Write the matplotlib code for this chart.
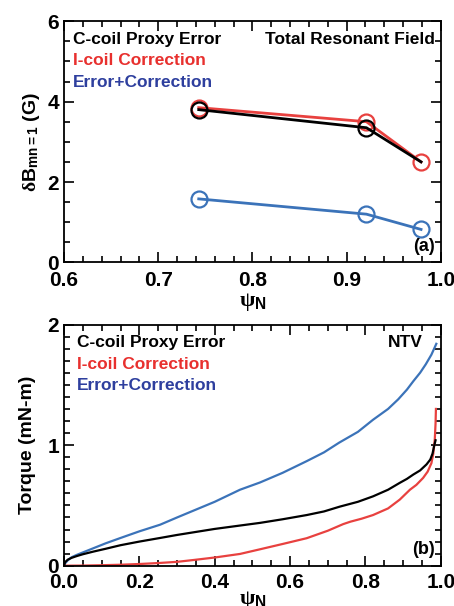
import matplotlib
matplotlib.use("Agg")
import matplotlib.pyplot as plt
from matplotlib.ticker import MultipleLocator

FAM = ['Liberation Sans', 'DejaVu Sans']
plt.rcParams['font.family'] = FAM
plt.rcParams['font.weight'] = 'bold'
plt.rcParams['axes.labelweight'] = 'bold'
plt.rcParams['mathtext.fontset'] = 'custom'
plt.rcParams['mathtext.rm'] = 'Liberation Sans:bold'
plt.rcParams['mathtext.it'] = 'Liberation Serif'
plt.rcParams['mathtext.bf'] = 'Liberation Sans:bold'

# ---- panel (a) data ----
psi_a = [0.743, 0.921, 0.979]
ccoil_a = [3.80, 3.35, 2.50]
icoil_a = [3.85, 3.50, 2.50]
total_a = [1.58, 1.20, 0.82]

# ---- panel (b) data ----
psi_blue = [0, 0.003, 0.01, 0.02, 0.034, 0.05, 0.078, 0.11, 0.15, 0.2, 0.255,
            0.3, 0.35, 0.4, 0.467, 0.52, 0.58, 0.644, 0.69, 0.73, 0.78, 0.82,
            0.86, 0.887, 0.91, 0.927, 0.945, 0.96, 0.975, 0.988]
tq_blue = [0, 0.02, 0.045, 0.07, 0.09, 0.11, 0.145, 0.185, 0.23, 0.285, 0.34,
           0.40, 0.465, 0.53, 0.63, 0.69, 0.77, 0.867, 0.94, 1.02, 1.11, 1.21,
           1.30, 1.38, 1.46, 1.53, 1.60, 1.67, 1.75, 1.84]
psi_black = [0, 0.003, 0.01, 0.02, 0.034, 0.05, 0.078, 0.11, 0.15, 0.2, 0.255,
             0.3, 0.35, 0.4, 0.467, 0.52, 0.58, 0.644, 0.69, 0.732, 0.78, 0.82,
             0.86, 0.891, 0.91, 0.927, 0.945, 0.962, 0.972, 0.978, 0.982, 0.986]
tq_black = [0, 0.03, 0.05, 0.065, 0.08, 0.095, 0.117, 0.14, 0.17, 0.20, 0.23,
            0.255, 0.28, 0.305, 0.333, 0.355, 0.385, 0.42, 0.45, 0.49, 0.53,
            0.575, 0.63, 0.687, 0.72, 0.756, 0.79, 0.84, 0.88, 0.93, 0.99, 1.04]
psi_red = [0, 0.05, 0.1, 0.15, 0.2, 0.25, 0.3, 0.343, 0.4, 0.467, 0.52, 0.58,
           0.644, 0.70, 0.741, 0.76, 0.79, 0.82, 0.86, 0.891, 0.918, 0.935,
           0.953, 0.965, 0.975, 0.98, 0.984, 0.986, 0.987]
tq_red = [0, 0.001, 0.004, 0.008, 0.014, 0.022, 0.032, 0.047, 0.068, 0.0975,
          0.136, 0.18, 0.228, 0.29, 0.345, 0.365, 0.39, 0.42, 0.475, 0.548,
          0.63, 0.67, 0.728, 0.78, 0.85, 0.93, 1.05, 1.18, 1.30]

labels = ['C-coil Proxy Error', 'I-coil Correction', 'Error+Correction']
text_colors = ['black', '#e8302e', '#2e3f9e']
line_black = 'black'
line_red = '#e8413f'
line_blue = '#3b73b9'

fig = plt.figure(figsize=(4.54, 6.06), dpi=100)
ax1 = fig.add_axes([0.141, 0.567, 0.830, 0.398])
ax2 = fig.add_axes([0.141, 0.0665, 0.830, 0.398])

def style(ax):
    ax.tick_params(which='both', direction='in', top=True, right=True,
                   labelsize=15, width=1.2)
    ax.tick_params(which='major', length=7)
    ax.tick_params(which='minor', length=4)
    ax.tick_params(axis='x', which='major', pad=6)
    for s in ax.spines.values():
        s.set_linewidth(1.3)
    for lab in ax.get_xticklabels() + ax.get_yticklabels():
        lab.set_fontweight('bold')

ms = 11.5
ax1.plot(psi_a, icoil_a, color=line_red, lw=2, marker='o', ms=ms,
         mfc='none', mec=line_red, mew=1.6)
ax1.plot(psi_a, ccoil_a, color=line_black, lw=2, marker='o', ms=ms,
         mfc='none', mec=line_black, mew=1.6, markevery=[0, 1])
ax1.plot(psi_a, total_a, color=line_blue, lw=2, marker='o', ms=ms,
         mfc='none', mec=line_blue, mew=1.6)
ax1.set_xlim(0.6, 1.0)
ax1.set_ylim(0, 6)
ax1.xaxis.set_minor_locator(MultipleLocator(0.02))
ax1.yaxis.set_major_locator(MultipleLocator(2))
ax1.yaxis.set_minor_locator(MultipleLocator(0.5))
ax1.set_xticks([0.6, 0.7, 0.8, 0.9, 1.0])
ax1.set_xticklabels(['0.6', '0.7', '0.8', '0.9', '1.0'])
style(ax1)
ax1.set_xlabel(r'$\psi_{\mathrm{N}}$', fontsize=16, labelpad=1)
ax1.set_ylabel(r'$\delta$B$_{\mathrm{mn=1}}$ (G)', fontsize=14, labelpad=4,
               fontweight='bold')
fs = 12.5
for i, (t, c) in enumerate(zip(labels, text_colors)):
    ax1.text(0.024, 0.955 - i * 0.088, t, transform=ax1.transAxes, color=c,
             fontsize=fs, fontweight='bold', va='top', ha='left')
ax1.text(0.985, 0.955, 'Total Resonant Field', transform=ax1.transAxes,
         fontsize=fs, fontweight='bold', va='top', ha='right')
ax1.text(0.985, 0.03, '(a)', transform=ax1.transAxes, fontsize=13,
         fontweight='bold', va='bottom', ha='right')

ax2.plot(psi_blue, tq_blue, color=line_blue, lw=1.6)
ax2.plot(psi_red, tq_red, color=line_red, lw=1.6)
ax2.plot(psi_black, tq_black, color=line_black, lw=1.6)
ax2.set_xlim(0, 1.0)
ax2.set_ylim(0, 2)
ax2.xaxis.set_minor_locator(MultipleLocator(0.05))
ax2.yaxis.set_minor_locator(MultipleLocator(0.1))
ax2.set_xticks([0, 0.2, 0.4, 0.6, 0.8, 1.0])
ax2.set_xticklabels(['0.0', '0.2', '0.4', '0.6', '0.8', '1.0'])
ax2.set_yticks([0, 1, 2])
ax2.set_yticklabels(['0', '1', '2'])
style(ax2)
ax2.tick_params(axis='x', which='major', pad=5)
ax2.set_xlabel(r'$\psi_{\mathrm{N}}$', fontsize=16, labelpad=-2)
ax2.set_ylabel('Torque (mN-m)', fontsize=14, labelpad=8, fontweight='bold')
for i, (t, c) in enumerate(zip(labels, text_colors)):
    ax2.text(0.035, 0.955 - i * 0.089, t, transform=ax2.transAxes, color=c,
             fontsize=fs, fontweight='bold', va='top', ha='left')
ax2.text(0.952, 0.955, 'NTV', transform=ax2.transAxes,
         fontsize=fs, fontweight='bold', va='top', ha='right')
ax2.text(0.985, 0.03, '(b)', transform=ax2.transAxes, fontsize=13,
         fontweight='bold', va='bottom', ha='right')

fig.savefig('out.png', dpi=100)
